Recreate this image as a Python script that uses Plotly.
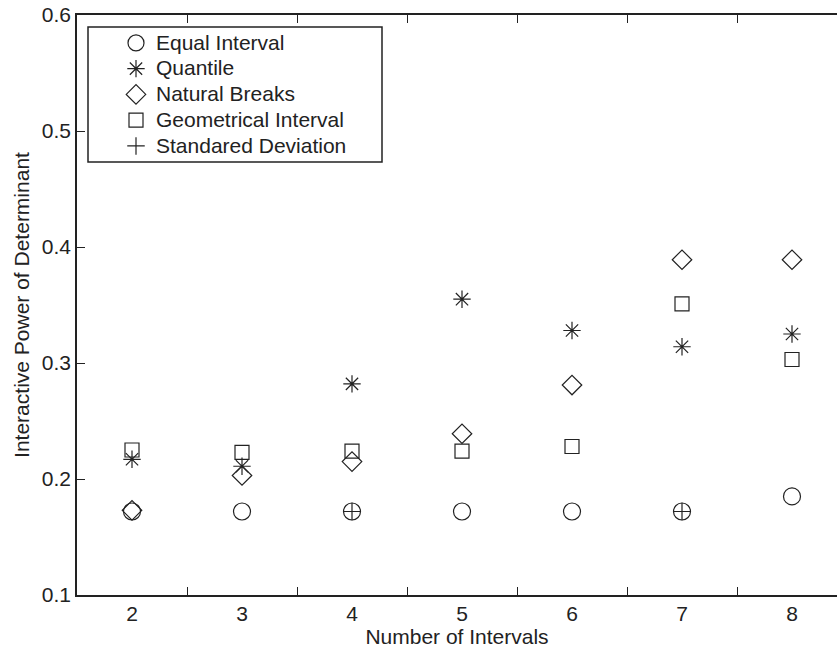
import plotly.graph_objects as go

intervals = [2, 3, 4, 5, 6, 7, 8]
x_tick_labels = ["2", "3", "4", "5", "6", "7", "8"]
y_tick_vals = [0.1, 0.2, 0.3, 0.4, 0.5, 0.6]

equal_interval = [0.172, 0.172, 0.172, 0.172, 0.172, 0.172, 0.185]
quantile = [0.217, 0.211, 0.282, 0.355, 0.328, 0.314, 0.325]
natural_breaks = [0.173, 0.203, 0.215, 0.239, 0.281, 0.389, 0.389]
geometrical_interval = [0.225, 0.223, 0.224, 0.224, 0.228, 0.351, 0.303]
standard_deviation = [None, None, 0.172, None, None, 0.172, None]

series_names = ["Equal Interval", "Quantile", "Natural Breaks",
                "Geometrical Interval", "Standared Deviation"]

INK = "#222222"
FONT = "Liberation Sans, Arial, Helvetica, sans-serif"
FS = 21

styles = [("circle-open", 17), ("asterisk-open", 14.5), ("diamond-open", 15),
          ("square-open", 14), ("cross-thin-open", 12.5)]
values = [equal_interval, quantile, natural_breaks, geometrical_interval,
          standard_deviation]

fig = go.Figure()
for name, vals, (sym, size) in zip(series_names, values, styles):
    fig.add_trace(go.Scatter(
        x=intervals, y=vals, mode="markers",
        name=f'<span style="font-size:{FS}px">{name}</span>',
        marker=dict(symbol=sym, size=size, color=INK,
                    line=dict(color=INK, width=1.2)),
    ))

half_ticks = [v + 0.5 for v in intervals[:-1]]

L, T, W, H = 77, 15, 837, 650
PB = 595
PW = W - L
PH = PB - T

fig.update_layout(
    width=W, height=H,
    margin=dict(l=L, r=0, t=T, b=H - PB, pad=0),
    paper_bgcolor="white", plot_bgcolor="white",
    font=dict(family=FONT, size=FS, color=INK),
    showlegend=True,
    legend=dict(
        x=(116 - L) / PW, y=1 - (25 - T) / PH,
        xanchor="left", yanchor="top",
        bgcolor="rgba(0,0,0,0)", borderwidth=0,
        font=dict(family=FONT, size=17.5, color=INK),
        tracegroupgap=0,
    ),
    xaxis=dict(
        range=[1.5, 1.5 + PW / 110],
        tickmode="array", tickvals=half_ticks,
        ticks="inside", ticklen=8, tickwidth=1.2, tickcolor=INK,
        showticklabels=False,
        showline=True, linecolor=INK, linewidth=1.5, mirror="ticks",
        showgrid=False, zeroline=False,
    ),
    xaxis2=dict(
        overlaying="x", anchor="y", side="bottom",
        range=[1.5, 1.5 + PW / 110],
        tickmode="array", tickvals=intervals, ticktext=x_tick_labels,
        ticks="", showline=False, showgrid=False, zeroline=False,
        ticklabelstandoff=4,
        tickfont=dict(family=FONT, size=FS, color=INK),
        title=dict(text="Number of Intervals", standoff=0,
                   font=dict(family=FONT, size=FS, color=INK)),
    ),
    yaxis=dict(
        range=[0.1, 0.6],
        tickmode="array", tickvals=y_tick_vals, tickformat=".1f",
        ticks="inside", ticklen=8, tickwidth=1.2, tickcolor=INK,
        tickfont=dict(family=FONT, size=FS, color=INK),
        showline=True, linecolor=INK, linewidth=1.5, mirror=False,
        showgrid=False, zeroline=False,
        title=dict(text="Interactive Power of Determinant", standoff=6,
                   font=dict(family=FONT, size=FS, color=INK)),
    ),
    shapes=[dict(
        type="rect", xref="paper", yref="paper",
        x0=(88 - L) / PW, x1=(382 - L) / PW,
        y0=1 - (162 - T) / PH, y1=1 - (27 - T) / PH,
        line=dict(color=INK, width=1.5), fillcolor="rgba(0,0,0,0)",
        layer="above",
    )],
)

# invisible trace to activate the label axis (xaxis2)
fig.add_trace(go.Scatter(x=[intervals[0]], y=[None], xaxis="x2", yaxis="y",
                         showlegend=False, hoverinfo="skip", mode="markers"))

fig.write_html("out.html",
               config={"displayModeBar": False},
               post_script="document.body.style.margin='0';"
                           "document.body.style.overflow='hidden';")
